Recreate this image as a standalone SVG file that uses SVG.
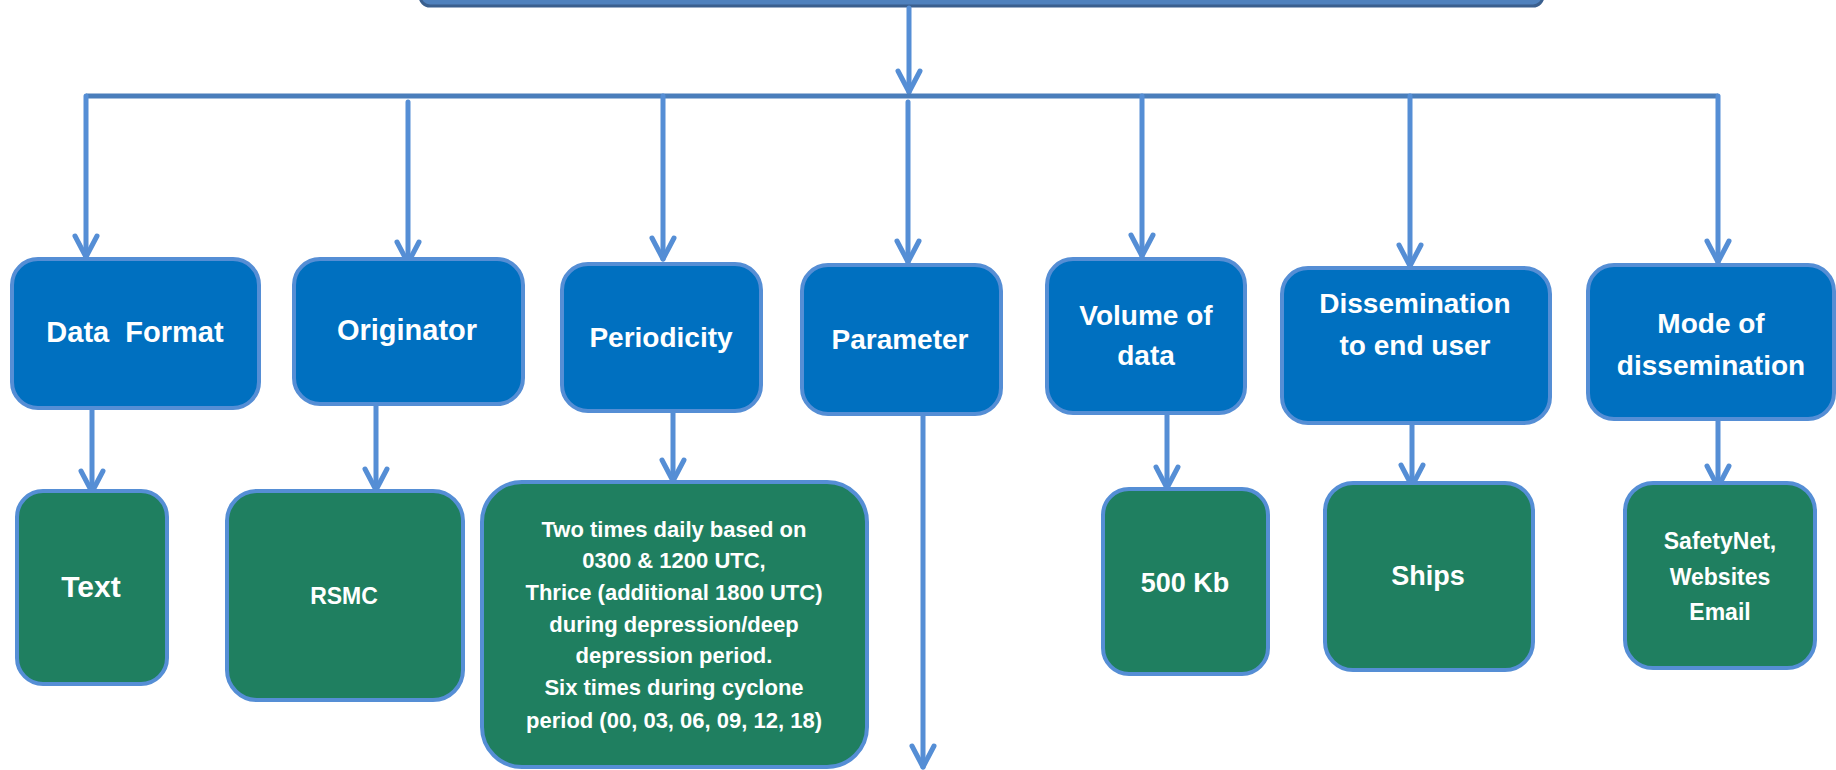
<svg xmlns="http://www.w3.org/2000/svg" width="1836" height="770" viewBox="0 0 1836 770">
<style>
.blue{fill:#0070C0;stroke:#558ED5;stroke-width:4}
.green{fill:#1F7F60;stroke:#558ED5;stroke-width:4}
.t{font-family:"Liberation Sans",Arial,sans-serif;font-weight:bold;fill:#FFFFFF;text-anchor:middle}
.conn{stroke:#558ED5;stroke-width:5;fill:none;stroke-linecap:round;stroke-linejoin:round}
.bus{stroke:#4A7EBB;stroke-width:5;fill:none}
</style>
<defs>
<marker id="ah" viewBox="-26 -15 30 30" refX="0" refY="0" markerWidth="30" markerHeight="30" markerUnits="userSpaceOnUse" orient="auto">
<path d="M-21,-11 L0,0 L-21,11" fill="none" stroke="#558ED5" stroke-width="5" stroke-linecap="round" stroke-linejoin="round"/>
</marker>
</defs>
<g id="top">
<rect x="420" y="-60" width="1123" height="66" rx="10" fill="#4F81BD" stroke="#3A5F8E" stroke-width="3"/>
</g>
<g id="connectors">
<line class="conn" x1="909" y1="8" x2="909" y2="92" marker-end="url(#ah)"/>
<line class="bus" x1="86" y1="96" x2="1718" y2="96"/>
<path class="conn" d="M86,96 L86,257" marker-end="url(#ah)"/>
<line class="conn" x1="408" y1="102" x2="408" y2="263" marker-end="url(#ah)"/>
<line class="conn" x1="663" y1="96" x2="663" y2="259" marker-end="url(#ah)"/>
<line class="conn" x1="908" y1="102" x2="908" y2="262" marker-end="url(#ah)"/>
<line class="conn" x1="1142" y1="96" x2="1142" y2="256" marker-end="url(#ah)"/>
<line class="conn" x1="1410" y1="96" x2="1410" y2="266" marker-end="url(#ah)"/>
<path class="conn" d="M1718,96 L1718,262" marker-end="url(#ah)"/>
<line class="conn" x1="92" y1="410" x2="92" y2="492" marker-end="url(#ah)"/>
<line class="conn" x1="376" y1="406" x2="376" y2="490" marker-end="url(#ah)"/>
<line class="conn" x1="673" y1="413" x2="673" y2="481" marker-end="url(#ah)"/>
<line class="conn" x1="923" y1="407" x2="923" y2="767" marker-end="url(#ah)"/>
<line class="conn" x1="1167" y1="415" x2="1167" y2="488" marker-end="url(#ah)"/>
<line class="conn" x1="1412" y1="425" x2="1412" y2="486" marker-end="url(#ah)"/>
<line class="conn" x1="1718" y1="421" x2="1718" y2="487" marker-end="url(#ah)"/>
</g>
<g id="n-dataformat">
<rect class="blue" x="12" y="259" width="247" height="149" rx="26"/>
<text class="t" x="135" y="342" font-size="29" xml:space="preserve">Data  Format</text>
</g>
<g id="n-originator">
<rect class="blue" x="294" y="259" width="229" height="145" rx="26"/>
<text class="t" x="407" y="340" font-size="29">Originator</text>
</g>
<g id="n-periodicity">
<rect class="blue" x="562" y="264" width="199" height="147" rx="26"/>
<text class="t" x="661" y="347" font-size="28">Periodicity</text>
</g>
<g id="n-parameter">
<rect class="blue" x="802" y="265" width="199" height="149" rx="26"/>
<text class="t" x="900" y="349" font-size="28">Parameter</text>
</g>
<g id="n-volume">
<rect class="blue" x="1047" y="259" width="198" height="154" rx="26"/>
<text class="t" x="1146" y="325" font-size="28">Volume of</text>
<text class="t" x="1146" y="365" font-size="28">data</text>
</g>
<g id="n-dissemination">
<rect class="blue" x="1282" y="268" width="268" height="155" rx="26"/>
<text class="t" x="1415" y="313" font-size="28">Dissemination</text>
<text class="t" x="1415" y="355" font-size="28">to end user</text>
</g>
<g id="n-mode">
<rect class="blue" x="1588" y="265" width="246" height="154" rx="26"/>
<text class="t" x="1711" y="333" font-size="28">Mode of</text>
<text class="t" x="1711" y="375" font-size="28">dissemination</text>
</g>
<g id="n-text">
<rect class="green" x="17" y="491" width="150" height="193" rx="26"/>
<text class="t" x="91" y="597" font-size="30">Text</text>
</g>
<g id="n-rsmc">
<rect class="green" x="227" y="491" width="236" height="209" rx="30"/>
<text class="t" x="344" y="604" font-size="23">RSMC</text>
</g>
<g id="n-periodtext">
<rect class="green" x="482" y="482" width="385" height="285" rx="40"/>
<text class="t" x="674" y="537" font-size="22">Two times daily based on</text>
<text class="t" x="674" y="568" font-size="22">0300 &amp; 1200 UTC,</text>
<text class="t" x="674" y="600" font-size="22">Thrice (additional 1800 UTC)</text>
<text class="t" x="674" y="632" font-size="22">during depression/deep</text>
<text class="t" x="674" y="663" font-size="22">depression period.</text>
<text class="t" x="674" y="695" font-size="22">Six times during cyclone</text>
<text class="t" x="674" y="728" font-size="22">period (00, 03, 06, 09, 12, 18)</text>
</g>
<g id="n-500kb">
<rect class="green" x="1103" y="489" width="165" height="185" rx="26"/>
<text class="t" x="1185" y="592" font-size="27">500 Kb</text>
</g>
<g id="n-ships">
<rect class="green" x="1325" y="483" width="208" height="187" rx="28"/>
<text class="t" x="1428" y="585" font-size="27">Ships</text>
</g>
<g id="n-safetynet">
<rect class="green" x="1625" y="483" width="190" height="185" rx="28"/>
<text class="t" x="1720" y="549" font-size="23">SafetyNet,</text>
<text class="t" x="1720" y="585" font-size="23">Websites</text>
<text class="t" x="1720" y="620" font-size="23">Email</text>
</g>
</svg>
